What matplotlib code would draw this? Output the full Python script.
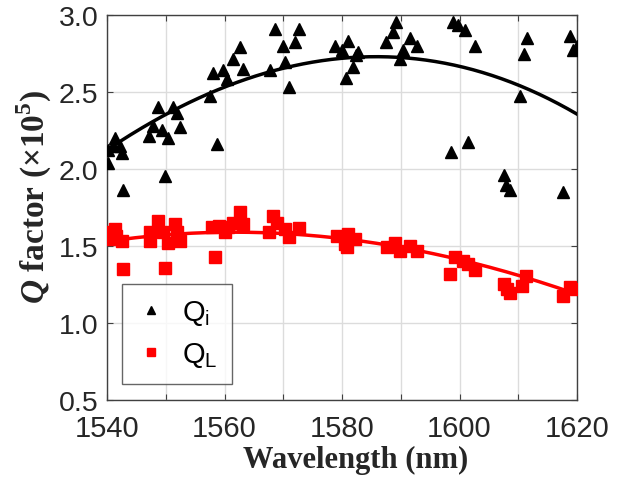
import numpy as np
import matplotlib
matplotlib.use("Agg")
import matplotlib.pyplot as plt
from matplotlib.ticker import MultipleLocator

plt.rcParams['mathtext.fontset'] = 'custom'
plt.rcParams['mathtext.rm'] = 'Liberation Sans'
plt.rcParams['mathtext.bf'] = 'Liberation Serif:bold'
plt.rcParams['mathtext.bfit'] = 'Liberation Serif:italic:bold'

# Intrinsic Q (x1e5)
qi_wl = [1540.2, 1540.2, 1541.1, 1541.4, 1542.2, 1542.5, 1542.8, 1547.2, 1547.9, 1548.7,
         1549.3, 1549.9, 1550.4, 1551.3, 1551.9, 1552.4, 1557.5, 1558.1, 1558.7, 1559.8,
         1560.4, 1561.5, 1562.6, 1563.1, 1567.7, 1568.6, 1569.9, 1570.3, 1571.0, 1572.0,
         1572.7, 1578.8, 1580.0, 1580.7, 1581.1, 1581.8, 1582.8, 1582.3, 1587.5, 1588.7,
         1589.2, 1589.9, 1590.4, 1591.6, 1592.7, 1598.6, 1598.9, 1599.8, 1600.9, 1601.5,
         1602.6, 1607.5, 1607.9, 1608.6, 1610.3, 1610.9, 1611.5, 1617.7, 1618.8, 1619.4,
         1620.0]
qi_val = [2.04, 2.12, 2.15, 2.20, 2.15, 2.10, 1.86, 2.21, 2.28, 2.40,
          2.25, 1.95, 2.20, 2.40, 2.36, 2.27, 2.47, 2.62, 2.16, 2.64,
          2.58, 2.71, 2.79, 2.65, 2.64, 2.91, 2.80, 2.695, 2.53, 2.82,
          2.91, 2.80, 2.77, 2.59, 2.83, 2.66, 2.76, 2.74, 2.82, 2.885,
          2.955, 2.71, 2.77, 2.85, 2.80, 2.11, 2.95, 2.93, 2.90, 2.175,
          2.80, 1.96, 1.895, 1.86, 2.47, 2.745, 2.85, 1.85, 2.86, 2.77,
          2.80]

# Loaded Q (x1e5)
ql_wl = [1540.2, 1541.4, 1541.6, 1540.3, 1542.5, 1542.8, 1547.3, 1548.7, 1547.3, 1549.6,
         1550.4, 1551.6, 1551.9, 1552.4, 1549.9, 1557.8, 1558.4, 1559.0, 1560.1, 1560.6,
         1561.5, 1562.6, 1563.2, 1568.3, 1568.9, 1567.5, 1570.3, 1570.9, 1572.6, 1579.1,
         1580.5, 1581.1, 1582.2, 1580.8, 1587.6, 1589.0, 1589.9, 1591.6, 1592.7, 1599.2,
         1598.4, 1600.6, 1601.5, 1602.6, 1607.5, 1608.0, 1608.6, 1610.6, 1611.4, 1617.7,
         1618.8, 1619.9]
ql_val = [1.587, 1.61, 1.565, 1.545, 1.53, 1.35, 1.587, 1.66, 1.53, 1.587,
          1.52, 1.64, 1.587, 1.53, 1.355, 1.62, 1.425, 1.63, 1.587, 1.62,
          1.65, 1.72, 1.64, 1.695, 1.65, 1.587, 1.61, 1.555, 1.614, 1.565,
          1.51, 1.576, 1.545, 1.49, 1.49, 1.52, 1.468, 1.50, 1.468, 1.425,
          1.316, 1.40, 1.38, 1.34, 1.25, 1.22, 1.19, 1.24, 1.305, 1.175,
          1.23, 1.22]

# Fit curves
fit_wl = [1540, 1550, 1560, 1570, 1580, 1590, 1600, 1610, 1620]
fit_qi = [2.12, 2.355, 2.53, 2.65, 2.717, 2.72, 2.67, 2.54, 2.355]
fit_ql = [1.533, 1.56, 1.585, 1.59, 1.55, 1.479, 1.414, 1.305, 1.186]

xticks = [1540, 1560, 1580, 1600, 1620]
yticks = [0.5, 1.0, 1.5, 2.0, 2.5, 3.0]

fig = plt.figure(figsize=(6.23, 4.81), dpi=100)
ax = fig.add_axes([107/623, 1 - 400.7/481, 470/623, 385/481])

xs = np.linspace(fit_wl[0], fit_wl[-1], 200)
ci = np.polyfit(fit_wl, fit_qi, 3)
cl = np.polyfit(fit_wl, fit_ql, 3)

ax.plot(qi_wl, qi_val, linestyle='none', marker='^', color='black', ms=9, label='Q$_\\mathrm{i}$', zorder=3)
ax.plot(ql_wl, ql_val, linestyle='none', marker='s', color='red', ms=8.5, mec='red', label='Q$_\\mathrm{L}$', zorder=3)
ax.plot(xs, np.polyval(ci, xs), color='black', lw=2.5, zorder=4)
ax.plot(xs, np.polyval(cl, xs), color='red', lw=2.5, zorder=4)

ax.set_xlim(1540, 1620)
ax.set_ylim(0.5, 3.0)
ax.xaxis.set_major_locator(MultipleLocator(10))
ax.set_xticklabels([str(int(v)) if int(v) in xticks else '' for v in ax.get_xticks()])
ax.set_yticks(yticks)
ax.set_yticklabels([f'{v:.1f}' for v in yticks])

ax.grid(True, color='#dcdcdc', lw=1.0)
ax.set_axisbelow(True)
for s in ax.spines.values():
    s.set_color('#404040')
    s.set_linewidth(1.0)
ax.tick_params(direction='in', length=4, width=0.8, color='#404040', top=True, right=True)
ax.tick_params(axis='x', pad=10, labelsize=21)
ax.tick_params(axis='y', pad=6, labelsize=20.5)
for lab in ax.get_xticklabels() + ax.get_yticklabels():
    lab.set_fontfamily('Liberation Sans')
    lab.set_color('#262626')

ax.set_xlabel('Wavelength (nm)', fontfamily='Liberation Serif', fontweight='bold', fontsize=22,
              color='#262626')
ax.xaxis.set_label_coords(0.528, -0.117)
ax.set_ylabel('$\\mathbfit{Q}$ factor (×10$^{\\mathbf{5}}$)', fontfamily='Liberation Serif',
              fontweight='bold', fontsize=24, color='#262626')
ax.yaxis.set_label_coords(-0.113, 0.53)

leg = ax.legend(loc='lower left', bbox_to_anchor=(0.032, 0.041), borderaxespad=0, markerscale=0.65,
                frameon=True, fancybox=False, edgecolor='#404040', handlelength=1.0,
                handletextpad=0.55, borderpad=0.5, labelspacing=0.45,
                prop={'family': 'Liberation Sans', 'size': 21})
leg.get_frame().set_linewidth(1.0)

fig.savefig('out.png', dpi=100, facecolor='white')
